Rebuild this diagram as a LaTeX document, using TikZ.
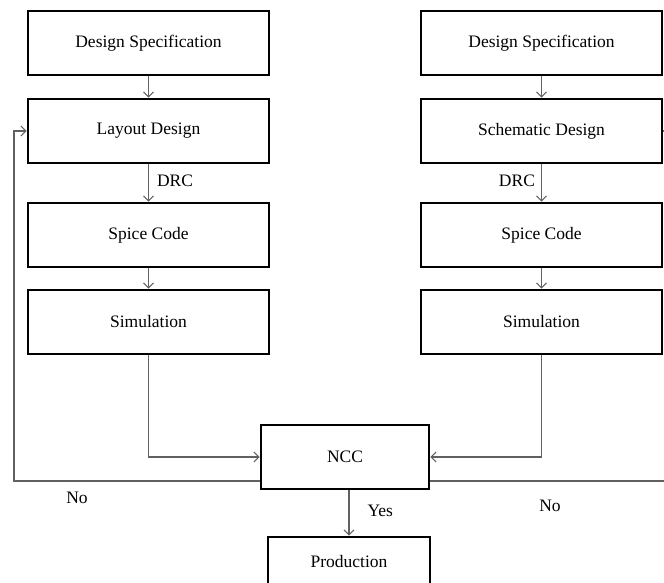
\documentclass[tikz,border=0pt]{standalone}
\usepackage{fontspec}
\setmainfont{Liberation Serif}
\usetikzlibrary{arrows.meta}
\begin{document}
\begin{tikzpicture}[x=1pt,y=-1pt,
  box/.style={draw=black, line width=2.6pt, fill=white, minimum width=241pt,
    minimum height=64pt, inner sep=0pt, font=\fontsize{17.5}{19}\selectfont},
  flow/.style={draw=black!62, line width=1.1pt,
    -{Straight Barb[length=5pt,width=10pt,line width=1.1pt]}},
  wire/.style={draw=black!62, line width=1.1pt},
  lbl/.style={font=\fontsize{17.5}{19}\selectfont, inner sep=0pt}]
\useasboundingbox (0,0) rectangle (664,582);
\clip (0,0) rectangle (664,582);

% left column: layout flow
\node[box] (specL) at (148.5,43)  {Design Specification};
\node[box] (layout) at (148.5,131) {Layout Design};
\node[box] (spiceL) at (148.5,235) {Spice Code};
\node[box] (simL)   at (148.5,322) {Simulation};

% right column: schematic flow
\node[box] (specR) at (541.5,43)  {Design Specification};
\node[box] (schem) at (541.5,131) {Schematic Design};
\node[box] (spiceR) at (541.5,235) {Spice Code};
\node[box] (simR)   at (541.5,322) {Simulation};

% comparison and output
\node[box, minimum width=168pt] (ncc) at (345,457) {NCC};
\node[box, minimum width=162pt, minimum height=50pt] (prod) at (349,562) {Production};

% feedback corners
\coordinate (fbL) at (14,481);
\coordinate (fbR) at (668,481);

% vertical flows
\draw[flow] (specL) -- (layout);
\draw[flow] (layout) -- node[lbl, right=8pt, pos=0.45] {DRC} (spiceL);
\draw[flow] (spiceL) -- (simL);
\draw[flow] (specR) -- (schem);
\draw[flow] (schem) -- node[lbl, left=6pt, pos=0.45] {DRC} (spiceR);
\draw[flow] (spiceR) -- (simR);

% into NCC
\draw[flow] (simL.south) |- (ncc.west);
\draw[flow] (simR.south) |- (ncc.east);

% NCC result
\draw[flow] (prod.north |- ncc.south) -- node[lbl, right=18pt, pos=0.45] {Yes} (prod.north);

% "No" feedback paths
\draw[flow] (ncc.west |- fbL) -- (fbL) |- (layout.west);
\draw[wire] (ncc.east |- fbR) -- (fbR) |- (schem.east);
\node[lbl] (noL) at (77,498) {No};
\node[lbl] (noR) at (550,506) {No};
\end{tikzpicture}
\end{document}
